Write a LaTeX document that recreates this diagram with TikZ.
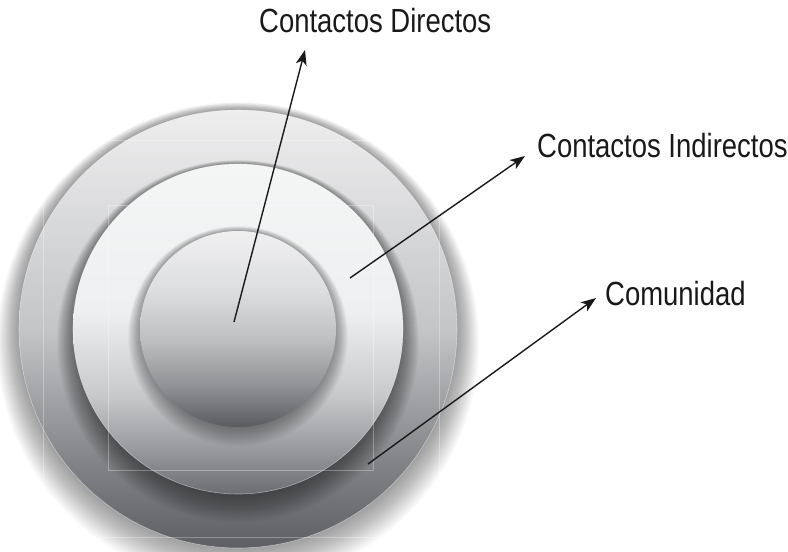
\documentclass[tikz,border=0pt]{standalone}
\usepackage{fontspec}
\setmainfont{Liberation Sans}[FakeStretch=0.82]
\usetikzlibrary{arrows.meta}

\definecolor{outerA}{HTML}{EEEEEF}
\definecolor{outerB}{HTML}{C4C5C7}
\definecolor{outerC}{HTML}{838487}
\definecolor{outerD}{HTML}{5E5F62}
\definecolor{middleA}{HTML}{F4F5F5}
\definecolor{middleB}{HTML}{EEEFF0}
\definecolor{middleC}{HTML}{C8C9CB}
\definecolor{middleD}{HTML}{949598}
\definecolor{middleE}{HTML}{6C6D70}
\definecolor{innerA}{HTML}{F0F0F1}
\definecolor{innerB}{HTML}{DDDEE0}
\definecolor{innerC}{HTML}{BFC0C2}
\definecolor{innerD}{HTML}{8E8F92}
\definecolor{innerE}{HTML}{5A5B5E}

\pgfdeclareverticalshading{outerdisc}{100bp}{color(0bp)=(outerD); color(25bp)=(outerD); color(35bp)=(outerC); color(50bp)=(outerB); color(75bp)=(outerA); color(100bp)=(outerA)}
\pgfdeclareverticalshading{middledisc}{100bp}{color(0bp)=(middleE); color(25bp)=(middleE); color(31bp)=(middleD); color(40bp)=(middleC); color(52.5bp)=(middleB); color(75bp)=(middleA); color(100bp)=(middleA)}
\pgfdeclareverticalshading{innerdisc}{100bp}{color(0bp)=(innerE); color(25bp)=(innerE); color(35bp)=(innerD); color(47.5bp)=(innerC); color(60bp)=(innerB); color(75bp)=(innerA); color(100bp)=(innerA)}

\tikzset{
  ringlabel/.style={font=\fontsize{33.5}{40}\selectfont, inner sep=0pt, anchor=base west, text=black!90},
  pointer/.style={-{Stealth[length=15pt,width=11pt,inset=4pt]}, line width=1.4pt, draw=black!90},
  rim/.style={draw=white, draw opacity=0.45, line width=0.6pt},
  ghostline/.style={draw=white, draw opacity=0.3, line width=0.6pt},
}

\begin{document}
\begin{tikzpicture}[x=1pt,y=-1pt]
\useasboundingbox[fill=white] (0,0) rectangle (788,552);

\coordinate (ctr) at (238,329);

% outer ring
\foreach \k in {1,...,26}
  \fill[black,opacity=0.017] ([yshift={-0.55*\k pt}]ctr) circle ({219pt+0.85*\k pt});
\shade[shading=outerdisc,rim] (ctr) circle (219pt);

% middle ring
\foreach \k in {1,...,20}
  \fill[black,opacity=0.022] ([yshift={-0.6*\k pt}]ctr) circle ({165pt+0.8*\k pt});
\shade[shading=middledisc,rim] (ctr) circle (165pt);

% inner disc
\foreach \k in {1,...,16}
  \fill[black,opacity=0.025] ([yshift={-0.45*\k pt}]ctr) circle ({98pt+0.75*\k pt});
\shade[shading=innerdisc] (ctr) circle (98pt);

\draw[ghostline] (108,205) rectangle (373,470);
\draw[ghostline] (43,140) rectangle (439,537);

\node[ringlabel] (directos) at (259,32) {Contactos Directos};
\node[ringlabel] (indirectos) at (537,157) {Contactos Indirectos};
\node[ringlabel] (comunidad) at (605,305) {Comunidad};

\coordinate (directosTail) at (234,322);
\coordinate (directosTip) at (305,50);
\coordinate (indirectosTail) at (350,278);
\coordinate (indirectosTip) at (525,156);
\coordinate (comunidadTail) at (368,464);
\coordinate (comunidadTip) at (596,298);

\draw[pointer] (directosTail) -- (directosTip);
\draw[pointer] (indirectosTail) -- (indirectosTip);
\draw[pointer] (comunidadTail) -- (comunidadTip);

\end{tikzpicture}
\end{document}
